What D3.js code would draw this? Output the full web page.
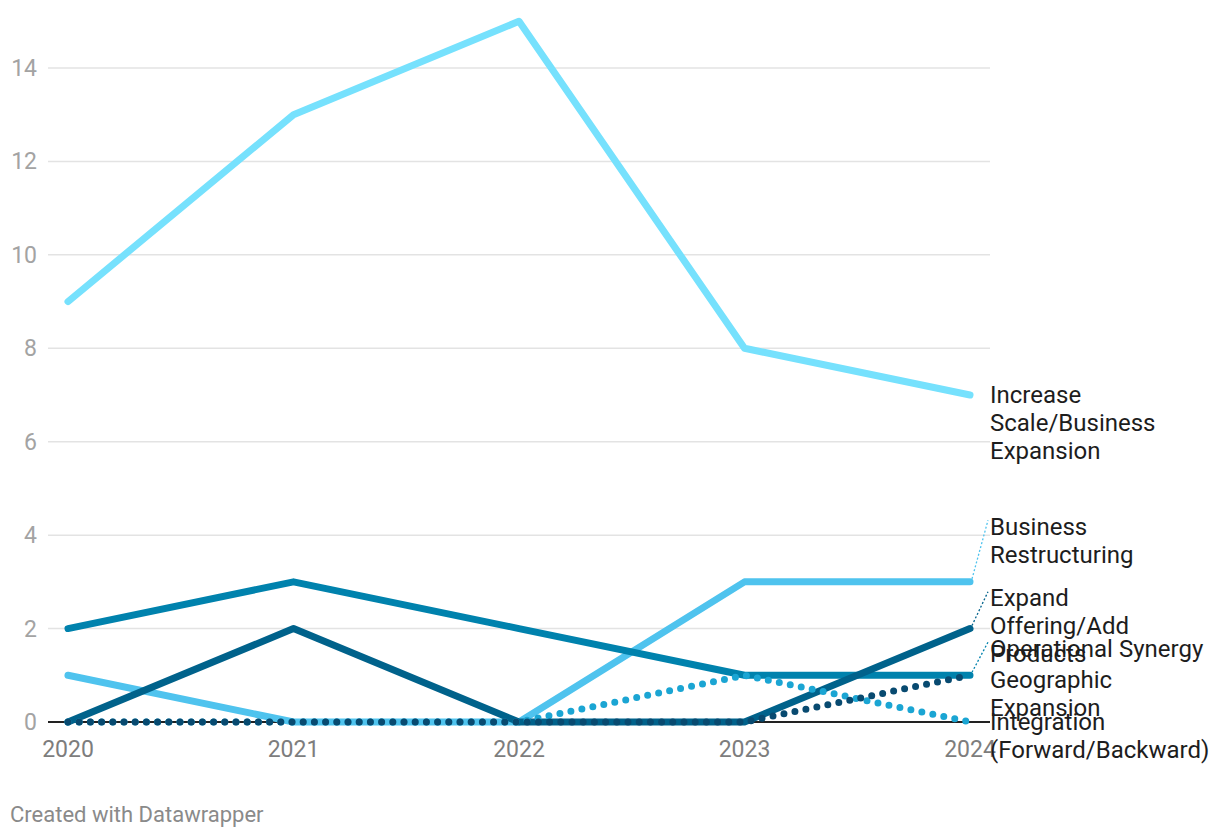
<!DOCTYPE html>
<html>
<head>
<meta charset="utf-8">
<script src="https://cdn.jsdelivr.net/npm/d3@7"></script>
<style>
  html, body { margin: 0; padding: 0; background: #fff; }
  svg { display: block; font-family: Roboto, "Noto Sans", sans-serif; }
</style>
</head>
<body>
<svg id="chart" width="1220" height="838"></svg>
<script>
// ---- data ----
const years = [2020, 2021, 2022, 2023, 2024];
const yTicks = [0, 2, 4, 6, 8, 10, 12, 14];
const seriesNames = [
  "Increase Scale/Business Expansion",
  "Business Restructuring",
  "Operational Synergy",
  "Expand Offering/Add Products",
  "Integration (Forward/Backward)",
  "Geographic Expansion"
];
const increaseScale = [9, 13, 15, 8, 7];
const businessRestructuring = [1, 0, 0, 3, 3];
const operationalSynergy = [2, 3, 2, 1, 1];
const expandOffering = [0, 2, 0, 0, 2];
const integration = [0, 0, 0, 1, 0];
const geographicExpansion = [0, 0, 0, 0, 1];
const seriesValues = [increaseScale, businessRestructuring, operationalSynergy, expandOffering, integration, geographicExpansion];
const labelLines = [
  ["Increase", "Scale/Business", "Expansion"],
  ["Business", "Restructuring"],
  ["Operational Synergy"],
  ["Expand", "Offering/Add", "Products"],
  ["Integration", "(Forward/Backward)"],
  ["Geographic", "Expansion"]
];

// ---- styles ----
const colors = ["#76e1fd", "#4fc3ee", "#0082ad", "#00628b", "#1ba5d3", "#084a70"];
const dotted = [false, false, false, false, true, true];
// label anchor (in value units) after collision avoidance
const labelAnchor = [7, 4.19, 1.58, 2.66, 0, 0.9];
const hasConnector = [false, true, true, true, false, false];

const svg = d3.select("#chart");
const x = d3.scaleLinear().domain([2020, 2024]).range([68, 970]);
const y = d3.scaleLinear().domain([0, 14]).range([722, 68]);
const gridX0 = 48, gridX1 = 990;

// grid
const grid = svg.append("g");
grid.selectAll("line").data(yTicks.filter(d => d !== 0)).join("line")
  .attr("x1", gridX0).attr("x2", gridX1)
  .attr("y1", d => y(d)).attr("y2", d => y(d))
  .attr("stroke", "#e3e3e3").attr("stroke-width", 1.5);

// y tick labels
svg.append("g").selectAll("text").data(yTicks).join("text")
  .attr("x", 37).attr("y", d => y(d)).attr("dy", "0.35em")
  .attr("text-anchor", "end")
  .attr("font-size", 23).attr("fill", "#a3a3a3")
  .text(d => d);

// x tick labels
svg.append("g").selectAll("text").data(years).join("text")
  .attr("x", d => x(d)).attr("y", 757)
  .attr("text-anchor", "middle")
  .attr("font-size", 23).attr("fill", "#7d7d7d")
  .text(d => d);

// baseline
svg.append("line")
  .attr("x1", gridX0).attr("x2", gridX1)
  .attr("y1", y(0)).attr("y2", y(0))
  .attr("stroke", "#222").attr("stroke-width", 2);

// lines
const line = d3.line().x((d, i) => x(years[i])).y(d => y(d));
const lg = svg.append("g");
seriesValues.forEach((vals, k) => {
  lg.append("path")
    .attr("d", line(vals))
    .attr("fill", "none")
    .attr("stroke", colors[k])
    .attr("stroke-width", dotted[k] ? 7 : 7)
    .attr("stroke-linecap", "round")
    .attr("stroke-linejoin", "round")
    .attr("stroke-dasharray", dotted[k] ? "0 11.2" : null);
});

// connectors and labels
const labX = 990, lh = 28;
const labG = svg.append("g");
seriesValues.forEach((vals, k) => {
  const endY = y(vals[vals.length - 1]);
  const ly = y(labelAnchor[k]);
  if (hasConnector[k]) {
    labG.append("line")
      .attr("x1", x(2024) + 2).attr("y1", endY - 3)
      .attr("x2", labX - 2).attr("y2", ly - 6)
      .attr("stroke", colors[k]).attr("stroke-width", 1.3)
      .attr("stroke-dasharray", "2 2");
  }
  const t = labG.append("text")
    .attr("x", labX).attr("y", ly)
    .attr("font-size", 24).attr("fill", "#1d1d1d");
  labelLines[k].forEach((s, i) => {
    t.append("tspan").attr("x", labX).attr("dy", i === 0 ? "0.35em" : lh).text(s);
  });
});

// footer
svg.append("text")
  .attr("x", 10).attr("y", 822)
  .attr("font-size", 22).attr("fill", "#8a8a8a")
  .text("Created with Datawrapper");
</script>
</body>
</html>
